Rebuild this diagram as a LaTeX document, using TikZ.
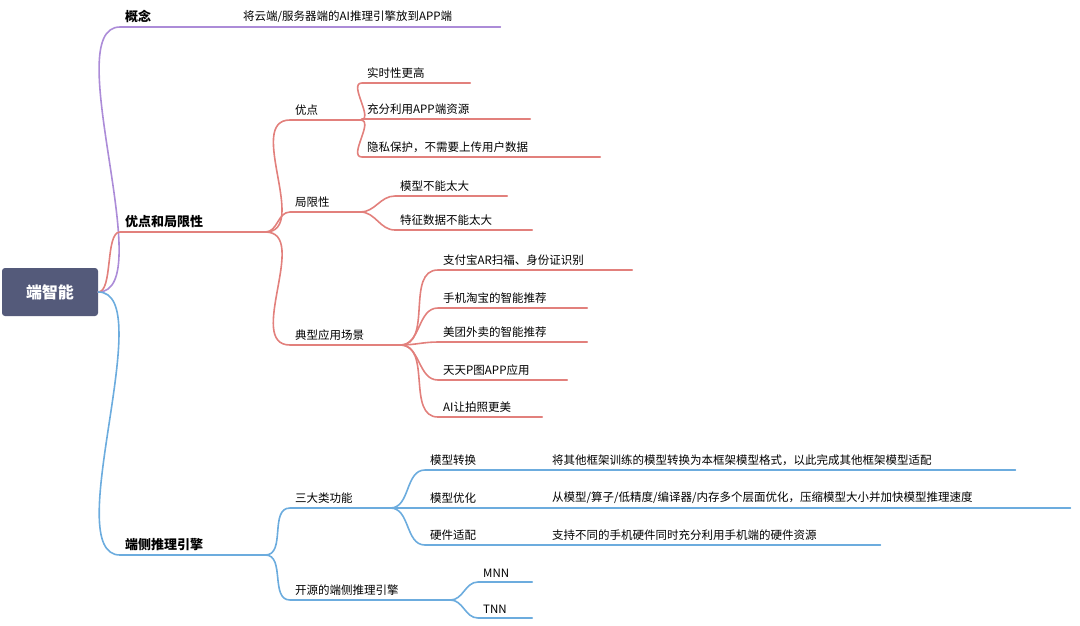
\documentclass[tikz,border=0pt]{standalone}
\usepackage{fontspec}
\setmainfont{Noto Sans CJK SC}
\definecolor{ColP}{RGB}{172,140,216}
\definecolor{ColR}{RGB}{226,128,124}
\definecolor{ColB}{RGB}{108,172,222}
\definecolor{ColRoot}{RGB}{84,90,122}
\tikzstyle{Topic}=[anchor=south west,inner xsep=5pt,inner ysep=4pt,align=left,font=\fontsize{11.5}{13}\selectfont]
\tikzstyle{Main}=[Topic,font=\fontsize{13}{15}\selectfont\bfseries]
\tikzstyle{Link}=[line width=1.6pt,cap=round]
\begin{document}
\begin{tikzpicture}[x=1pt,y=-1pt]
    \useasboundingbox (0,0) rectangle (1080,625);
    \node[fill=ColRoot,rounded corners=3pt,minimum width=96pt,minimum height=48pt,text=white,font=\fontsize{16}{18}\selectfont\bfseries](root)at(50,292){端智能};
    % level 1
    \node[Main,text width=90pt](gn)at(120,27){概念};
    \node[Main,text width=135pt](yd)at(120,232){优点和局限性};
    \node[Main,text width=135pt](dc)at(120,555){端侧推理引擎};
    \draw[Link,ColP](root.east)to[out=0,in=180,looseness=.6](gn.south west)--(gn.south east);
    \draw[Link,ColR](root.east)to[out=0,in=180,looseness=.6](yd.south west)--(yd.south east);
    \draw[Link,ColB](root.east)to[out=0,in=180,looseness=.6](dc.south west)--(dc.south east);
    \node[Topic,text width=252pt](gn1)at(238,27){将云端/服务器端的AI推理引擎放到APP端};
    \draw[Link,ColP](gn.south east)--(gn1.south west)--(gn1.south east);
    % level 2
    \node[Topic,text width=60pt](yo)at(290,120){优点};
    \node[Topic,text width=60pt](jx)at(290,212){局限性};
    \node[Topic,text width=100pt](dx)at(290,345){典型应用场景};
    \node[Topic,text width=90pt](sd)at(290,508){三大类功能};
    \node[Topic,text width=150pt](ky)at(290,600){开源的端侧推理引擎};
    \foreach \n in {yo,jx,dx}
        \draw[Link,ColR](yd.south east)to[out=0,in=180](\n.south west)--(\n.south east);
    \foreach \n in {sd,ky}
        \draw[Link,ColB](dc.south east)to[out=0,in=180](\n.south west)--(\n.south east);
    % level 3
    \node[Topic,text width=98pt](a1)at(362,83){实时性更高};
    \node[Topic,text width=158pt](a2)at(362,119){充分利用APP端资源};
    \node[Topic,text width=228pt](a3)at(362,157){隐私保护，不需要上传用户数据};
    \node[Topic,text width=102pt](b1)at(395,196){模型不能太大};
    \node[Topic,text width=127pt](b2)at(395,230){特征数据不能太大};
    \node[Topic,text width=184pt](c1)at(438,270){支付宝AR扫福、身份证识别};
    \node[Topic,text width=139pt](c2)at(438,308){手机淘宝的智能推荐};
    \node[Topic,text width=139pt](c3)at(438,342){美团外卖的智能推荐};
    \node[Topic,text width=119pt](c4)at(438,380){天天P图APP应用};
    \node[Topic,text width=94pt](c5)at(438,417){AI让拍照更美};
    \node[Topic,text width=100pt](d1)at(425,470){模型转换};
    \node[Topic,text width=100pt](d2)at(425,508){模型优化};
    \node[Topic,text width=100pt](d3)at(425,545){硬件适配};
    \node[Topic,text width=470pt](e1)at(535,470){\hspace*{12pt}将其他框架训练的模型转换为本框架模型格式，以此完成其他框架模型适配};
    \node[Topic,text width=525pt](e2)at(535,508){\hspace*{12pt}从模型/算子/低精度/编译器/内存多个层面优化，压缩模型大小并加快模型推理速度};
    \node[Topic,text width=335pt](e3)at(535,545){\hspace*{12pt}支持不同的手机硬件同时充分利用手机端的硬件资源};
    \node[Topic,text width=44pt](f1)at(478,582){MNN};
    \node[Topic,text width=44pt](f2)at(478,618){TNN};
    \foreach \n in {a1,a2,a3}
        \draw[Link,ColR](yo.south east)to[out=0,in=180](\n.south west)--(\n.south east);
    \foreach \n in {b1,b2}
        \draw[Link,ColR](jx.south east)to[out=0,in=180](\n.south west)--(\n.south east);
    \foreach \n in {c1,c2,c3,c4,c5}
        \draw[Link,ColR](dx.south east)to[out=0,in=180](\n.south west)--(\n.south east);
    \foreach \n in {d1,d2,d3}
        \draw[Link,ColB](sd.south east)to[out=0,in=180](\n.south west)--(\n.south east);
    \foreach \n/\m in {d1/e1,d2/e2,d3/e3}
        \draw[Link,ColB](\n.south east)--(\m.south west)--(\m.south east);
    \foreach \n in {f1,f2}
        \draw[Link,ColB](ky.south east)to[out=0,in=180](\n.south west)--(\n.south east);
\end{tikzpicture}
\end{document}
